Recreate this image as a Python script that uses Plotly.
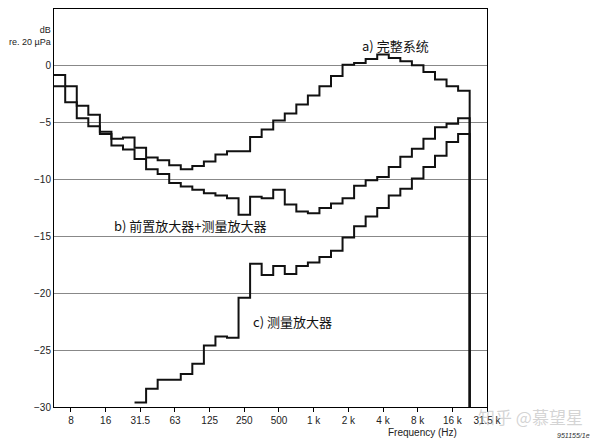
"""Third-octave noise spectra: complete system vs amplifier stages."""

import plotly.graph_objects as go

# Band index 0 = 8 Hz, one step per third-octave; band -1 = 6.3 Hz, band 34 = 20 kHz
bands_ab = list(range(-1, 35))
bands_c = list(range(6, 35))

# a) complete system
curve_a = [-0.8, -1.8, -3.5, -4.3, -5.8, -6.4, -6.3, -7.2, -8.05, -8.3,
           -8.75, -9.1, -8.8, -8.4, -7.8, -7.5, -7.5, -6.25, -5.6, -4.8,
           -4.2, -3.4, -2.6, -1.8, -0.9, 0.1, 0.25, 0.6, 1.0, 0.7,
           0.4, 0.05, -0.55, -1.2, -1.8, -2.2]
# b) preamplifier + measuring amplifier
curve_b = [-1.8, -3.2, -4.6, -5.3, -6.0, -7.0, -7.35, -8.2, -9.1, -9.5,
           -10.3, -10.6, -10.9, -11.2, -11.4, -11.65, -13.1, -11.5, -11.65, -10.9,
           -12.2, -12.8, -12.96, -12.5, -12.1, -11.65, -10.55, -10.05, -9.77, -8.9,
           -8.0, -7.3, -6.4, -5.4, -5.1, -4.6]
# c) measuring amplifier
curve_c = [-29.6, -28.4, -27.6, -27.6, -27.1, -26.2, -24.6, -23.8, -23.9, -20.4,
           -17.4, -18.4, -17.6, -18.3, -17.6, -17.3, -16.8, -16.25, -15.1, -14.1,
           -13.25, -12.5, -11.4, -10.8, -9.9, -8.9, -7.9, -6.7, -6.0]

tick_labels = ['8', '16', '31.5', '63', '125', '250', '500', '1 k', '2 k',
               '4 k', '8 k', '16 k', '31.5 k']
floor_db = -30


def steps(bands, values):
    """Turn band levels into a staircase that drops to the floor at the end."""
    xs, ys = [], []
    for b, v in zip(bands, values):
        xs += [b - 0.5, b + 0.5]
        ys += [v, v]
    xs.append(bands[-1] + 0.5)
    ys.append(floor_db)
    return xs, ys


fig = go.Figure()
for bands, vals in [(bands_ab, curve_a), (bands_ab, curve_b), (bands_c, curve_c)]:
    xs, ys = steps(bands, vals)
    fig.add_trace(go.Scatter(x=xs, y=ys, mode='lines', showlegend=False,
                             line=dict(color='#111111', width=2)))

label_font = dict(family='Noto Sans CJK SC', size=13, color='#111111')
fig.add_annotation(x=25.0, y=1.8, text='a) 完整系统', showarrow=False,
                   xanchor='left', font=label_font)
fig.add_annotation(x=10.3, y=-14.0, text='b) 前置放大器+测量放大器', showarrow=False,
                   font=label_font)
fig.add_annotation(x=15.6, y=-22.5, text='c) 测量放大器', showarrow=False,
                   xanchor='left', font=label_font)

small = dict(family='Liberation Sans', size=10, color='#222222')
fig.add_annotation(xref='paper', yref='y', x=-0.003, y=2.6, text='dB<br>re. 20 µPa',
                   showarrow=False, xanchor='right', align='right',
                   font=dict(family='Liberation Sans', size=9, color='#222222'))
fig.add_annotation(xref='paper', yref='paper', x=0.85, y=-0.046,
                   text='Frequency (Hz)', showarrow=False, xanchor='center',
                   yanchor='top', font=small)
fig.add_annotation(xref='paper', yref='paper', x=1.243, y=-0.058, text='<i>951155/1e</i>',
                   showarrow=False, xanchor='right', yanchor='top',
                   font=dict(family='Liberation Sans', size=7, color='#333333'))
fig.add_annotation(xref='paper', yref='paper', x=1.1, y=0.012, text='知乎 @慕望星',
                   showarrow=False, xanchor='center', yanchor='top',
                   font=dict(family='Noto Sans CJK SC', size=17, color='rgba(170,170,170,0.5)'))

fig.update_xaxes(range=[-1.47, 36], tickvals=list(range(0, 37, 3)),
                 ticktext=tick_labels, ticks='outside', ticklen=4,
                 tickcolor='black', showgrid=False, zeroline=False,
                 showline=True, linecolor='black', mirror=True,
                 tickfont=small, automargin=False)
fig.update_yaxes(range=[-30, 5], tickvals=list(range(-30, 6, 5)),
                 ticks='', showgrid=True, gridcolor='#888888', gridwidth=1,
                 zeroline=False, showline=True, linecolor='black', mirror=True,
                 tickfont=small, automargin=False)
fig.update_layout(width=600, height=440, plot_bgcolor='white',
                  paper_bgcolor='white',
                  margin=dict(l=46, r=121, t=1, b=41))
fig.write_html('out.html')
